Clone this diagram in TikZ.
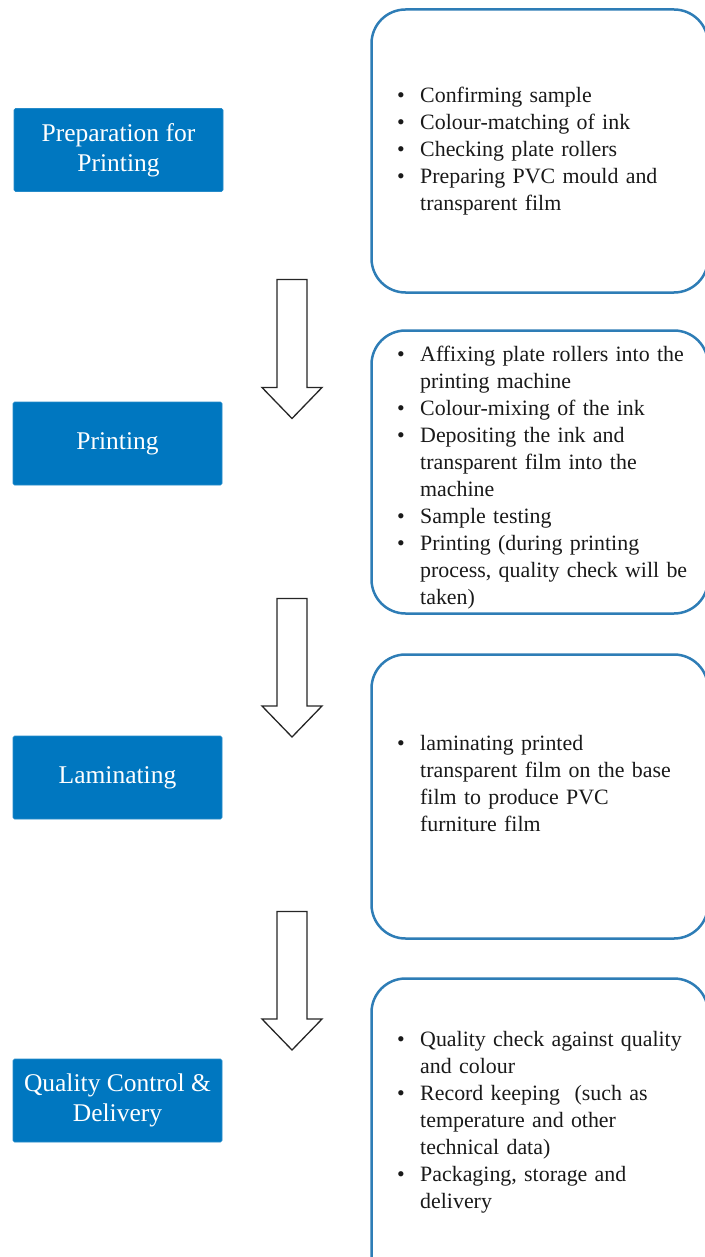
\documentclass[tikz,border=0pt]{standalone}
\usepackage{fontspec}
\setmainfont{Liberation Serif}
\definecolor{stageblue}{HTML}{0077C0}
\definecolor{panelblue}{HTML}{2E7DB6}
% bullet item with hanging indent; \nl breaks a line inside an item
\newcommand\nl{\hfil\break}
\newcommand\bitem[1]{\hangindent=23pt\hangafter=1\noindent\makebox[23pt][l]{\textbullet}#1\par}
\newcommand\blockarrow[4]{% name, x, top, tip
  \coordinate (#1) at (#2,#3);
  \draw[arrowline] (#2-15,#3) -- (#2+15,#3) -- (#2+15,#4-31) -- (#2+30,#4-31)
    -- (#2,#4) -- (#2-30,#4-31) -- (#2-15,#4-31) -- cycle;}
\begin{document}
\begin{tikzpicture}[x=1pt,y=-1pt,
  stage/.style={fill=stageblue, draw=stageblue!85!white, line width=0.6pt,
    rounded corners=1.5pt, minimum width=209pt, minimum height=83pt,
    text=white, align=center, inner sep=0pt,
    font=\fontsize{25.5}{30}\selectfont},
  panel/.style={draw=panelblue, line width=2.5pt, rounded corners=34pt},
  itemtext/.style={anchor=base west, text width=300pt, inner sep=0pt,
    font=\fontsize{21.9}{27}\selectfont, text=black!90},
  arrowline/.style={draw=black!85, line width=1.3pt, fill=white, line join=miter}]
\useasboundingbox (0,0) rectangle (704,1257);

% stage labels
\node[stage] (s1) at (118.5,150) {Preparation for\\Printing};
\node[stage] (s2) at (117.5,443.5) {Printing};
\node[stage] (s3) at (117.5,777.5) {Laminating};
\node[stage] (s4) at (117.5,1100.5) {Quality Control \&\\Delivery};

% detail panels
\draw[panel] (371.5,9.5) rectangle (708,292.5);
\draw[panel] (371.5,330.5) rectangle (708,613.5);
\draw[panel] (371.5,654.5) rectangle (708,938.5);
\draw[panel] (371.5,978.5) rectangle (708,1300);

\node[itemtext] (t1) at (397,103) {%
  \bitem{Confirming sample}
  \bitem{Colour-matching of ink}
  \bitem{Checking plate rollers}
  \bitem{Preparing PVC mould and\nl transparent film}};

\node[itemtext] (t2) at (397,361) {%
  \bitem{Affixing plate rollers into the\nl printing machine}
  \bitem{Colour-mixing of the ink}
  \bitem{Depositing the ink and\nl transparent film into the\nl machine}
  \bitem{Sample testing}
  \bitem{Printing (during printing\nl process, quality check will be\nl taken)}};

\node[itemtext] (t3) at (397,750) {%
  \bitem{laminating printed\nl transparent film on the base\nl film to produce PVC\nl furniture film}};

\node[itemtext] (t4) at (397,1046) {%
  \bitem{Quality check against quality\nl and colour}
  \bitem{Record keeping\ \ (such as\nl temperature and other\nl technical data)}
  \bitem{Packaging, storage and\nl delivery}};

% block arrows between stages
\blockarrow{a1}{292}{279.5}{418.5}
\blockarrow{a2}{292}{598.5}{737}
\blockarrow{a3}{292}{911.5}{1050}
\end{tikzpicture}
\end{document}
